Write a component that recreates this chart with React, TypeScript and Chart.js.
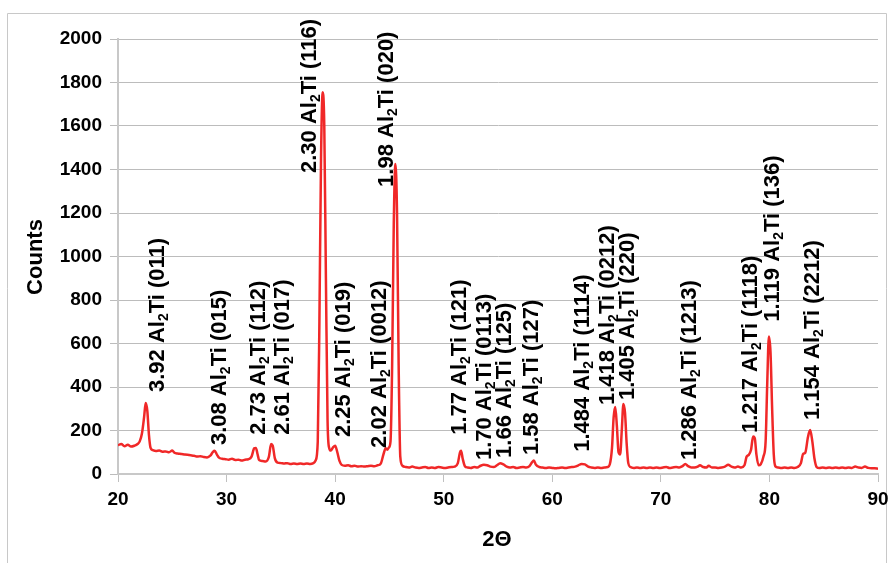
import React, { useEffect, useRef } from "react";
import { Chart, registerables } from "chart.js";
Chart.register(...registerables);

const twoTheta = [
  20.0, 20.3, 20.6, 20.9, 21.2, 21.5, 21.8, 22.0, 22.2, 22.4, 22.55, 22.7, 22.85, 23.0, 23.2, 23.5, 23.8, 24.1, 24.4, 24.7,
  25.0, 25.2, 25.5, 25.8, 26.1, 26.4, 26.7, 27.0, 27.3, 27.6, 27.9, 28.2, 28.5, 28.75, 28.9, 29.1, 29.3, 29.6, 29.9, 30.2,
  30.5, 30.8, 31.1, 31.4, 31.7, 32.0, 32.3, 32.55, 32.7, 32.85, 33.0, 33.3, 33.6, 33.9, 34.1, 34.25, 34.45, 34.7, 35.0, 35.3,
  35.6, 35.9, 36.2, 36.5, 36.8, 37.1, 37.4, 37.7, 38.0, 38.2, 38.4, 38.55, 38.7, 38.85, 39.0, 39.15, 39.3, 39.45, 39.6, 39.8,
  40.0, 40.2, 40.4, 40.6, 40.9, 41.2, 41.5, 41.8, 42.1, 42.4, 42.7, 43.0, 43.3, 43.6, 43.9, 44.2, 44.45, 44.65, 44.8, 44.95,
  45.1, 45.25, 45.4, 45.55, 45.7, 45.85, 46.0, 46.2, 46.5, 46.8, 47.1, 47.4, 47.7, 48.0, 48.3, 48.6, 48.9, 49.2, 49.5, 49.8,
  50.1, 50.4, 50.7, 51.0, 51.3, 51.5, 51.6, 51.75, 51.95, 52.2, 52.5, 52.8, 53.1, 53.4, 53.7, 54.0, 54.3, 54.6, 54.9, 55.2,
  55.5, 55.8, 56.1, 56.4, 56.7, 57.0, 57.3, 57.6, 57.9, 58.15, 58.3, 58.5, 58.8, 59.1, 59.4, 59.7, 60.0, 60.3, 60.6, 60.9,
  61.2, 61.5, 61.8, 62.1, 62.4, 62.7, 63.0, 63.3, 63.6, 63.9, 64.2, 64.5, 64.8, 65.1, 65.3, 65.5, 65.65, 65.8, 65.95, 66.1,
  66.25, 66.4, 66.55, 66.7, 66.85, 67.0, 67.2, 67.5, 67.8, 68.1, 68.4, 68.7, 69.0, 69.3, 69.6, 69.9, 70.2, 70.5, 70.8, 71.1,
  71.4, 71.7, 72.0, 72.25, 72.5, 72.8, 73.1, 73.4, 73.6, 73.9, 74.2, 74.4, 74.7, 75.0, 75.3, 75.6, 75.9, 76.2, 76.5, 76.8,
  77.1, 77.4, 77.7, 77.9, 78.1, 78.3, 78.5, 78.65, 78.8, 79.0, 79.2, 79.45, 79.65, 79.8, 79.95, 80.1, 80.25, 80.4, 80.55, 80.8,
  81.1, 81.4, 81.7, 82.0, 82.3, 82.6, 82.9, 83.1, 83.3, 83.55, 83.75, 83.95, 84.15, 84.35, 84.6, 84.9, 85.2, 85.5, 85.8, 86.1,
  86.4, 86.7, 87.0, 87.3, 87.6, 87.9, 88.2, 88.5, 88.8, 89.1, 89.4, 89.7, 90.0,
];

const counts = [
  132, 138, 128, 135, 126, 130, 138, 150, 185, 260, 326, 290, 180, 120, 110, 106, 108, 102, 104, 100,
  108, 98, 94, 92, 90, 88, 86, 84, 80, 82, 78, 76, 84, 102, 107, 90, 75, 70, 68, 66,
  70, 64, 66, 62, 66, 68, 80, 118, 120, 92, 64, 60, 58, 80, 138, 130, 72, 52, 50, 48,
  50, 46, 48, 46, 48, 46, 48, 46, 50, 62, 150, 700, 1450, 1755, 1600, 900, 250, 120, 108, 122,
  130, 100, 60, 42, 38, 40, 36, 38, 34, 36, 34, 36, 38, 36, 40, 48, 90, 118, 112, 122,
  150, 500, 1150, 1425, 1200, 500, 80, 38, 32, 30, 34, 30, 28, 30, 32, 28, 30, 28, 32, 30,
  28, 30, 32, 34, 50, 100, 107, 70, 36, 30, 28, 32, 30, 38, 42, 40, 34, 32, 40, 50,
  44, 34, 30, 32, 28, 30, 32, 30, 36, 55, 62, 42, 32, 30, 28, 30, 28, 26, 28, 30,
  28, 30, 32, 34, 40, 46, 44, 34, 30, 28, 30, 28, 30, 32, 45, 120, 260, 308, 220, 100,
  90, 200, 322, 280, 140, 50, 32, 28, 30, 28, 30, 28, 30, 28, 30, 28, 30, 32, 28, 30,
  32, 30, 36, 46, 36, 30, 30, 34, 40, 32, 30, 38, 30, 30, 28, 30, 34, 42, 34, 30,
  34, 30, 40, 80, 88, 110, 172, 165, 90, 40, 45, 80, 150, 420, 632, 560, 300, 90, 35, 30,
  28, 30, 28, 30, 28, 32, 50, 92, 98, 170, 202, 150, 70, 32, 28, 30, 28, 30, 28, 30,
  28, 30, 28, 30, 28, 34, 30, 28, 34, 28, 26, 26, 24,
];

const peakD = ["3.92", "3.08", "2.73", "2.61", "2.30", "2.25", "2.02", "1.98", "1.77", "1.70", "1.66", "1.58", "1.484", "1.418", "1.405", "1.286", "1.217", "1.119", "1.154"];
const peakHkl = ["011", "015", "112", "017", "116", "019", "0012", "020", "121", "0113", "125", "127", "1114", "0212", "220", "1213", "1118", "136", "2212"];
const labelTheta = [23.5, 29.2, 32.8, 35.0, 37.5, 40.6, 43.95, 44.6, 51.3, 53.6, 55.5, 58.0, 62.7, 64.95, 66.8, 72.5, 78.1, 80.2, 83.8];
const labelCount = [377, 133, 180, 180, 1384, 170, 120, 1320, 180, 64, 74, 87, 102, 317, 340, 64, 188, 700, 248];

const yTitle = "Counts";
const xTitle = "2\u0398";

const FONT = "'Liberation Sans', Arial, sans-serif";

const labelPlugin = {
  id: "peakLabels",
  beforeDraw(chart: any) {
    const ctx = chart.ctx;
    ctx.save();
    ctx.strokeStyle = "#c8c8c8";
    ctx.lineWidth = 1;
    ctx.beginPath();
    ctx.moveTo(7.5, 570);
    ctx.lineTo(7.5, 13.5);
    ctx.lineTo(886.5, 13.5);
    ctx.lineTo(886.5, 570);
    ctx.stroke();
    ctx.restore();
  },
  afterDraw(chart: any) {
    const ctx = chart.ctx;
    const xs = chart.scales.x;
    const ys = chart.scales.y;
    ctx.save();
    ctx.fillStyle = "#000";
    const fs = 22;
    const sub = 14;
    const cap = fs * 0.716;
    for (let i = 0; i < peakD.length; i++) {
      const px = xs.getPixelForValue(labelTheta[i]);
      const py = ys.getPixelForValue(labelCount[i]);
      ctx.save();
      ctx.translate(px + cap / 2, py);
      ctx.rotate(-Math.PI / 2);
      ctx.textBaseline = "alphabetic";
      ctx.textAlign = "left";
      let x = 0;
      ctx.font = `bold ${fs}px ${FONT}`;
      const a = peakD[i] + " Al";
      ctx.fillText(a, x, 0);
      x += ctx.measureText(a).width;
      ctx.font = `bold ${sub}px ${FONT}`;
      ctx.fillText("2", x, 4);
      x += ctx.measureText("2").width;
      ctx.font = `bold ${fs}px ${FONT}`;
      ctx.fillText("Ti (" + peakHkl[i] + ")", x, 0);
      ctx.restore();
    }
    ctx.font = `bold 22px ${FONT}`;
    ctx.textAlign = "center";
    ctx.textBaseline = "middle";
    ctx.fillText(xTitle, 497, 540);
    ctx.save();
    ctx.translate(36, 257);
    ctx.rotate(-Math.PI / 2);
    ctx.fillText(yTitle, 0, 0);
    ctx.restore();
    ctx.restore();
  },
};

export default function App() {
  const ref = useRef<HTMLCanvasElement>(null);
  useEffect(() => {
    if (!ref.current) return;
    const chart = new Chart(ref.current, {
      type: "line",
      data: {
        datasets: [
          {
            data: twoTheta.map((t, i) => ({ x: t, y: counts[i] })),
            borderColor: "#f02828",
            borderWidth: 2.5,
            pointRadius: 0,
            cubicInterpolationMode: "monotone",
            fill: false,
          },
        ],
      },
      options: {
        animation: false,
        responsive: false,
        maintainAspectRatio: false,
        layout: { padding: { left: 0, top: 39, right: 11, bottom: 0 } },
        plugins: { legend: { display: false }, tooltip: { enabled: false } },
        scales: {
          x: {
            type: "linear",
            min: 20,
            max: 90,
            ticks: { stepSize: 10, color: "#000", font: { family: FONT, size: 19, weight: "bold" }, padding: 6, maxRotation: 0, callback: (v: any) => String(v) },
            grid: { drawOnChartArea: false, drawTicks: true, tickLength: 8, color: "#c0c0c0" },
            border: { color: "#c8c8c8", width: 2 },
            afterFit: (s: any) => { s.height = 89; s.paddingLeft = 0; s.paddingRight = 0; },
          },
          y: {
            min: 0,
            max: 2000,
            ticks: { stepSize: 200, color: "#000", font: { family: FONT, size: 19, weight: "bold" }, padding: 8, callback: (v: any) => String(v) },
            grid: { color: "#bcbcbc", lineWidth: 1, tickLength: 8 },
            border: { color: "#c8c8c8", width: 2 },
            afterFit: (s: any) => { s.width = 118; s.paddingTop = 0; s.paddingBottom = 0; },
          },
        },
      },
      plugins: [labelPlugin],
    } as any);
    return () => chart.destroy();
  }, []);
  return (
    <div style={{ position: "fixed", left: 0, top: 0, width: 889, height: 563, background: "#fff" }}>
      <canvas ref={ref} width={889} height={563} style={{ width: 889, height: 563 }} />
    </div>
  );
}
